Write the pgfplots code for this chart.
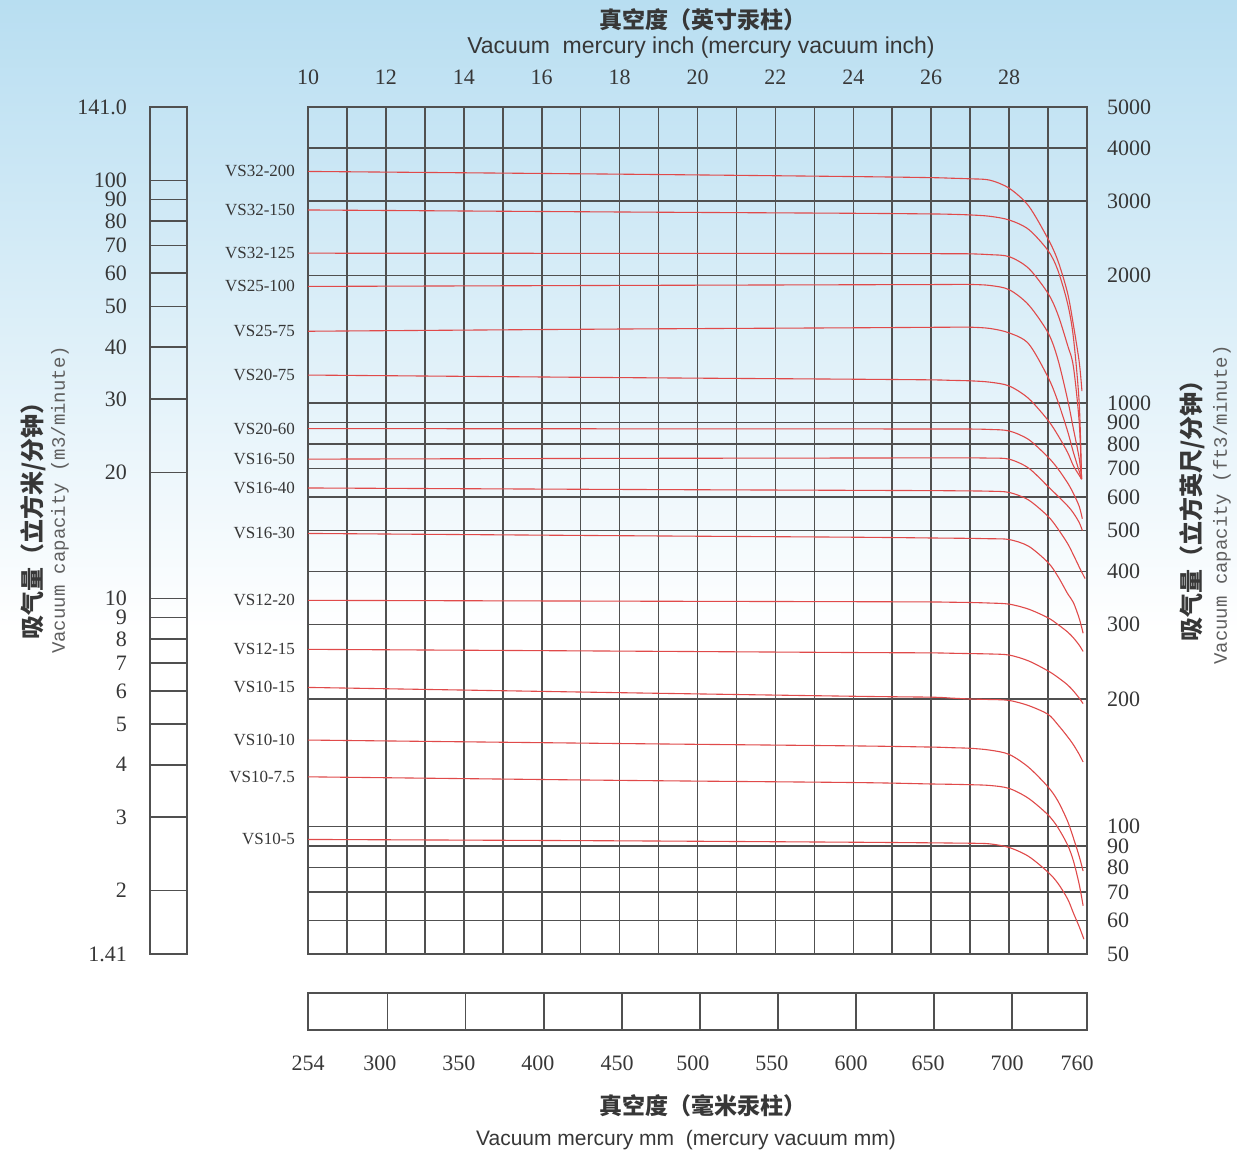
\documentclass[border=0pt]{standalone}
\usepackage{fontspec}
\usepackage{pgfplots}
\pgfplotsset{compat=1.18}
\setmainfont{Liberation Serif}
\newfontfamily\cjk{Noto Sans CJK SC}
\newfontfamily\sans{Liberation Sans}
\newfontfamily\mono{Liberation Mono}

\definecolor{gridc}{RGB}{80,80,80}
\definecolor{curve}{RGB}{224,74,74}
\definecolor{txt}{RGB}{55,55,55}
\definecolor{sky}{RGB}{184,222,241}

\tikzset{lbl/.style={anchor=east, xshift=-3pt, text=txt, font=\fontsize{8.5}{10}\selectfont}}

\pgfplotsset{
  scalebar/.style={
    scale only axis, anchor=south west,
    axis line style={gridc, line width=0.8pt},
    major grid style={gridc, line width=0.8pt},
    major tick length=0pt,
    tick label style={font=\fontsize{11}{12}\selectfont, text=txt},
    /pgf/number format/assume math mode=true,
  },
  vs/.style={curve, solid, line width=0.55pt, smooth, tension=0.5, mark=none},
}

\begin{document}
\begin{tikzpicture}
% sky background
\fill[white] (0pt,0pt) rectangle (618.5pt,577pt);
\shade[top color=sky, bottom color=white] (0pt,260pt) rectangle (618.5pt,577pt);

% left scale, m3/min
\begin{axis}[scalebar,
  at={(75pt,100pt)}, width=18.5pt, height=423.5pt,
  xmin=0, xmax=1, xtick=\empty,
  ymode=log, ymin=1.41, ymax=150,
  ytick={2,3,4,5,6,7,8,9,10,20,30,40,50,60,70,80,90,100},
  yticklabels={2,3,4,5,6,7,8,9,10,20,30,40,50,60,70,80,90,100},
  extra y ticks={1.41,150}, extra y tick labels={1.41,141.0},
  ymajorgrids,
  yticklabel style={xshift=-8pt},
]
\end{axis}

% main chart, inch Hg vs ft3/min
\begin{axis}[scalebar,
  at={(154pt,100pt)}, width=389.5pt, height=423.5pt,
  xmin=10, xmax=30,
  xtick={10,...,30},
  xticklabels={10,,12,,14,,16,,18,,20,,22,,24,,26,,28,,},
  xticklabel pos=upper,
  xticklabel style={yshift=7.5pt},
  ymode=log, ymin=50, ymax=5000,
  ytick={50,60,70,80,90,100,200,300,400,500,600,700,800,900,1000,2000,3000,4000,5000},
  yticklabels={50,60,70,80,90,100,200,300,400,500,600,700,800,900,1000,2000,3000,4000,5000},
  yticklabel pos=right,
  yticklabel style={xshift=6.5pt},
  grid=major,
  clip=false,
]
% VS32-200
\addplot[vs] coordinates {(10,3522) (18,3470) (24,3425) (26,3405) (26.5,3395) (27,3383) (27.5,3360) (28,3215) (28.5,2920) (29,2440) (29.25,2170) (29.5,1820) (29.65,1530) (29.8,1250) (29.87,1067)};
% VS32-150
\addplot[vs] coordinates {(10,2856) (18,2825) (24,2805) (26,2795) (26.5,2790) (27,2780) (27.5,2760) (28,2705) (28.5,2570) (29,2290) (29.25,2060) (29.5,1720) (29.65,1430) (29.8,1000) (29.86,661)};
% VS32-125
\addplot[vs] coordinates {(10,2258) (18,2256) (24,2254) (26,2252) (26.5,2251) (27,2250) (27.5,2240) (28,2216) (28.5,2080) (29,1815) (29.25,1620) (29.5,1370) (29.65,1220) (29.8,900) (29.86,661)};
% VS25-100
\addplot[vs] coordinates {(10,1885) (18,1895) (24,1902) (26,1904) (26.5,1905) (27,1905) (27.5,1895) (28,1852) (28.5,1705) (29,1465) (29.25,1270) (29.5,1020) (29.65,870) (29.8,740) (29.86,661)};
% VS25-75
\addplot[vs] coordinates {(10,1477) (18,1495) (24,1505) (26,1509) (26.5,1510) (27,1510) (27.5,1500) (28,1464) (28.5,1380) (29,1150) (29.25,1010) (29.5,859) (29.65,765) (29.8,690) (29.86,661)};
% VS20-75
\addplot[vs] coordinates {(10,1164) (18,1148) (24,1138) (26,1134) (26.5,1131) (27,1128) (27.5,1120) (28,1097) (28.5,1025) (29,910) (29.25,840) (29.5,765) (29.65,711) (29.8,675) (29.86,661)};
% VS20-60
\addplot[vs] coordinates {(10,870) (18,869) (24,868.5) (26,868) (26.5,868) (27,868) (27.5,866) (28,859) (28.5,820) (29,745) (29.25,700) (29.5,648) (29.65,612) (29.8,570) (29.88,533)};
% VS16-50
\addplot[vs] coordinates {(10,737) (18,740) (24,741.5) (26,742) (26.5,742) (27,742) (27.5,741) (28,737) (28.5,702) (29,635) (29.25,603) (29.5,572) (29.65,550) (29.8,522) (29.88,500)};
% VS16-40
\addplot[vs] coordinates {(10,630) (18,625) (24,622) (26,621) (26.5,620.5) (27,620) (27.5,619) (28,615) (28.5,590) (29,540) (29.25,505) (29.5,466) (29.65,438) (29.8,410) (29.95,385)};
% VS16-30
\addplot[vs] coordinates {(10,492) (18,486) (24,482) (26,480) (26.5,479.5) (27,479) (27.5,478) (28,476) (28.5,459) (29,420) (29.25,390) (29.5,355) (29.65,338) (29.8,310) (29.9,286)};
% VS12-20
\addplot[vs] coordinates {(10,342) (18,340.5) (24,339.5) (26,339) (26.5,338.5) (27,338) (27.5,337) (28,335) (28.5,326) (29,311) (29.25,300) (29.5,288) (29.65,279) (29.8,268) (29.9,259)};
% VS12-15
\addplot[vs] coordinates {(10,262) (18,259.5) (24,257.5) (26,257) (26.5,256.5) (27,256) (27.5,255.5) (28,254) (28.5,246) (29,233) (29.25,225) (29.5,216) (29.65,209) (29.8,201) (29.9,195)};
% VS10-15
\addplot[vs] coordinates {(10,213) (18,207) (24,203) (26,202) (26.5,201) (27,200) (27.5,199.5) (28,198.5) (28.5,193) (29,184) (29.25,174) (29.5,163) (29.65,156) (29.8,148) (29.9,142)};
% VS10-10
\addplot[vs] coordinates {(10,160) (18,157) (24,155) (26,154) (26.5,153.5) (27,153) (27.5,151.5) (28,148) (28.5,138) (29,124) (29.25,115) (29.5,103) (29.65,94) (29.8,85) (29.9,78.5)};
% VS10-7.5
\addplot[vs] coordinates {(10,131) (18,128.5) (24,127) (26,126) (26.5,125.8) (27,125.5) (27.5,125) (28,123) (28.5,116.5) (29,106.5) (29.25,99.5) (29.5,90.5) (29.65,83) (29.8,73) (29.9,65)};
% VS10-5
\addplot[vs] coordinates {(10,93.2) (18,92.5) (24,91.8) (26,91.5) (26.5,91.4) (27,91.3) (27.5,91) (28,89.2) (28.5,85) (29,78) (29.25,73.5) (29.5,67.5) (29.65,62.5) (29.8,58) (29.92,54.2)};

\node[lbl] at (axis cs:10,3522) {VS32-200};
\node[lbl] at (axis cs:10,2856) {VS32-150};
\node[lbl] at (axis cs:10,2258) {VS32-125};
\node[lbl] at (axis cs:10,1885) {VS25-100};
\node[lbl] at (axis cs:10,1477) {VS25-75};
\node[lbl] at (axis cs:10,1164) {VS20-75};
\node[lbl] at (axis cs:10,870) {VS20-60};
\node[lbl] at (axis cs:10,737) {VS16-50};
\node[lbl] at (axis cs:10,630) {VS16-40};
\node[lbl] at (axis cs:10,492) {VS16-30};
\node[lbl] at (axis cs:10,342) {VS12-20};
\node[lbl] at (axis cs:10,262) {VS12-15};
\node[lbl] at (axis cs:10,213) {VS10-15};
\node[lbl] at (axis cs:10,160) {VS10-10};
\node[lbl] at (axis cs:10,131) {VS10-7.5};
\node[lbl] at (axis cs:10,93.2) {VS10-5};
\end{axis}

% bottom scale, mm Hg
\begin{axis}[scalebar,
  at={(154pt,62pt)}, width=389.5pt, height=18.5pt,
  xmin=249, xmax=748, ymin=0, ymax=1, ytick=\empty,
  xtick={249,295.1,345.7,396.3,447,495.6,546.2,596.9,646.2,696.8,741.6},
  xticklabels={254,300,350,400,450,500,550,600,650,700,760},
  xticklabel style={yshift=-9.5pt},
  extra x ticks={300,350,400,450,500,550,600,650,700},
  extra x tick labels={,,,,,,,,},
  extra x tick style={grid=major},
]
\end{axis}

% titles
\node[font=\cjk\bfseries\fontsize{11.5}{13}\selectfont, text=txt] at (351.5pt,567pt) {真空度（英寸汞柱）};
\node[font=\sans\fontsize{11.5}{13}\selectfont, text=txt] at (350.5pt,553pt) {Vacuum\ \ mercury inch (mercury vacuum inch)};
\node[font=\cjk\bfseries\fontsize{11.5}{13}\selectfont, text=txt] at (351.5pt,24pt) {真空度（毫米汞柱）};
\node[font=\sans\fontsize{10.5}{12}\selectfont, text=txt] at (343pt,7pt) {Vacuum mercury mm\ \ (mercury vacuum mm)};
\node[rotate=90, font=\cjk\bfseries\fontsize{12}{14}\selectfont, text=txt] at (16.5pt,319.5pt) {吸气量（立方米/分钟）};
\node[rotate=90, font=\mono\fontsize{9.5}{11}\selectfont, text=txt!80] at (30pt,327pt) {Vacuum capacity (m3/minute)};
\node[rotate=90, font=\cjk\bfseries\fontsize{12}{14}\selectfont, text=txt] at (596pt,324.5pt) {吸气量（立方英尺/分钟）};
\node[rotate=90, font=\mono\fontsize{9.5}{11}\selectfont, text=txt!80] at (611pt,324.5pt) {Vacuum capacity (ft3/minute)};

\pgfresetboundingbox
\useasboundingbox (0pt,0pt) rectangle (618.5pt,577pt);
\end{tikzpicture}
\end{document}
